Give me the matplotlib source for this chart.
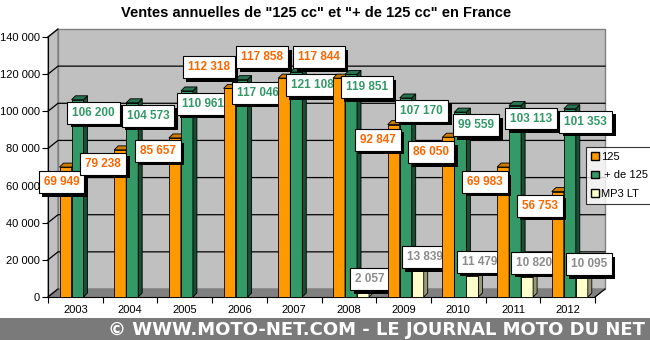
import matplotlib
matplotlib.use('Agg')
import matplotlib.pyplot as plt
import matplotlib.patheffects as pe
from matplotlib.patches import Polygon, Rectangle, Patch

plt.rcParams['font.family'] = ['Liberation Sans', 'DejaVu Sans']

# Donnees
annees = ['2003', '2004', '2005', '2006', '2007', '2008', '2009', '2010', '2011', '2012']
ventes_125 = [69949, 79238, 85657, 112318, 117858, 117844, 92847, 86050, 69983, 56753]
ventes_plus_125 = [106200, 104573, 110961, 117046, 121108, 119851, 107170, 99559, 103113, 101353]
ventes_mp3 = [None, None, None, None, None, 2057, 13839, 11479, 10820, 10095]

# decalage des etiquettes (pixels) par rapport au sommet des barres
dx_125 = [-4, -17, -17, -21, -22, -20, -16, -17, -18, -18]
dy_125 = [15, 14, 13, -21, -21, -21, 15, 15, 15, 14]

W, H = 650, 340
fig = plt.figure(figsize=(W / 100, H / 100), dpi=100)
fig.patch.set_facecolor('white')

ax_l, ax_b, ax_w, ax_h = 48, 43, 547, 260
ax = fig.add_axes([ax_l / W, ax_b / H, ax_w / W, ax_h / H])
ymax = 140000
ax.set_xlim(0, 10)
ax.set_ylim(0, ymax)
ax.patch.set_visible(False)

px_x = 10 / ax_w
px_y = ymax / ax_h
wdx, wdy = 10 * px_x, 8 * px_y
bdx, bdy = 4 * px_x, 4 * px_y

# murs et sol
ax.add_patch(Rectangle((wdx, wdy), 10, ymax, fc='#C0C0C0', ec='#808080', lw=1, zorder=0, clip_on=False))
ax.add_patch(Polygon([(0, 0), (0, ymax), (wdx, ymax + wdy), (wdx, wdy)],
                     fc='#C0C0C0', ec='#808080', lw=1, zorder=0, clip_on=False))
ax.add_patch(Polygon([(0, 0), (10, 0), (10 + wdx, wdy), (wdx, wdy)],
                     fc='#808080', ec='#808080', lw=1, zorder=0.5, clip_on=False))
ax.plot([10, 10 + wdx], [0, wdy], color='black', lw=0.8, zorder=1, clip_on=False)
for v in range(20000, ymax, 20000):
    ax.plot([0, wdx, 10 + wdx], [v, v + wdy, v + wdy], color='black', lw=0.9, zorder=1, clip_on=False)
ax.plot([0, wdx], [ymax, ymax + wdy], color='black', lw=0.9, zorder=1, clip_on=False)
ax.plot([0, wdx], [0, wdy], color='black', lw=0.9, zorder=1, clip_on=False)

bar_w = 12 * px_x
bar_off = 11.5 * px_x


def barre(x0, h, front, side, top, z):
    ax.add_patch(Rectangle((x0, 0), bar_w, h, fc=front, ec='black', lw=0.6, zorder=z, clip_on=False))
    ax.add_patch(Polygon([(x0 + bar_w, 0), (x0 + bar_w + bdx, bdy), (x0 + bar_w + bdx, h + bdy), (x0 + bar_w, h)],
                         fc=side, ec='black', lw=0.6, zorder=z, clip_on=False))
    ax.add_patch(Polygon([(x0, h), (x0 + bdx, h + bdy), (x0 + bar_w + bdx, h + bdy), (x0 + bar_w, h)],
                         fc=top, ec='black', lw=0.6, zorder=z, clip_on=False))


def etiquette(x, h, texte, couleur, dx, dy, z):
    t = ax.annotate(texte, xy=(x, h), xytext=(dx, -dy), textcoords='offset pixels',
                    ha='center', va='center', fontsize=8.5, fontweight='bold', color=couleur,
                    bbox=dict(boxstyle='square,pad=0.42', fc='white', ec='black', lw=0.8),
                    zorder=z, annotation_clip=False)
    t.get_bbox_patch().set_path_effects([
        pe.SimplePatchShadow(offset=(2.5, -2.5), shadow_rgbFace='black', alpha=1.0), pe.Normal()])


def fmt(v):
    return f'{v:,}'.replace(',', ' ')


series = [
    (ventes_125, '#FF9900', '#B36B00', '#CC7A00', '#FF6600'),
    (ventes_plus_125, '#339966', '#1A4D33', '#267350', '#339966'),
    (ventes_mp3, '#FFFFCC', '#99997A', '#CCCCA3', '#8C8C8C'),
]

for i in range(len(annees)):
    z = 10 + 2 * i
    for s, (vals, front, side, top, tcol) in enumerate(series):
        v = vals[i]
        if v is None:
            continue
        barre(i + bar_off + s * bar_w, v, front, side, top, z)
    for s, (vals, front, side, top, tcol) in enumerate(series):
        v = vals[i]
        if v is None:
            continue
        xc = i + bar_off + s * bar_w + bar_w / 2
        if s == 0:
            dx, dy = dx_125[i], dy_125[i]
        elif s == 1:
            dx, dy = 16, 13
        else:
            dx, dy = 7, -14
        etiquette(xc, v, fmt(v), tcol, dx, dy, z + 1)

# axes
for side in ['top', 'right']:
    ax.spines[side].set_visible(False)
ax.spines['left'].set_color('black')
ax.spines['bottom'].set_color('black')
ax.spines['left'].set_zorder(2)
ax.spines['bottom'].set_zorder(2)
ax.set_yticks(range(0, ymax + 1, 20000))
ax.set_yticklabels([fmt(v) for v in range(0, ymax + 1, 20000)], fontsize=8)
ax.tick_params(axis='y', direction='out', length=4, width=0.8, pad=2)
ax.set_xticks(range(0, 11))
ax.set_xticklabels([''] * 11)
ax.set_xticks([i + 0.5 for i in range(10)], minor=True)
ax.set_xticklabels(annees, minor=True, fontsize=8)
ax.tick_params(axis='x', which='major', direction='out', length=4, width=0.8)
ax.tick_params(axis='x', which='minor', length=0, pad=6)

fig.text(316 / W, 1 - 13 / H, 'Ventes annuelles de "125 cc" et "+ de 125 cc" en France',
         ha='center', va='center', fontsize=10.5, fontweight='bold')

leg = fig.legend(handles=[Patch(fc='#FF9900', ec='black'), Patch(fc='#339966', ec='black'),
                          Patch(fc='#FFFFCC', ec='black')],
                 labels=['125', ' + de 125', 'MP3 LT'], loc='upper left',
                 bbox_to_anchor=(586 / W, 1 - 147 / H), frameon=True, fancybox=False,
                 edgecolor='black', fontsize=8, handlelength=0.7, handleheight=0.7,
                 handletextpad=0.2, labelspacing=0.75, borderpad=0.45, borderaxespad=0)
leg.get_frame().set_linewidth(0.8)

# bandeau
fig.patches.append(Rectangle((0, 0), 1, 22 / H, transform=fig.transFigure, fc='#7A7A7A', ec='none'))
fig.text(376 / W, 10 / H, '© WWW.MOTO-NET.COM - LE JOURNAL MOTO DU NET', ha='center', va='center',
         fontsize=13, fontweight='bold', color='white', family='DejaVu Sans')

fig.savefig('out.png', dpi=100)
